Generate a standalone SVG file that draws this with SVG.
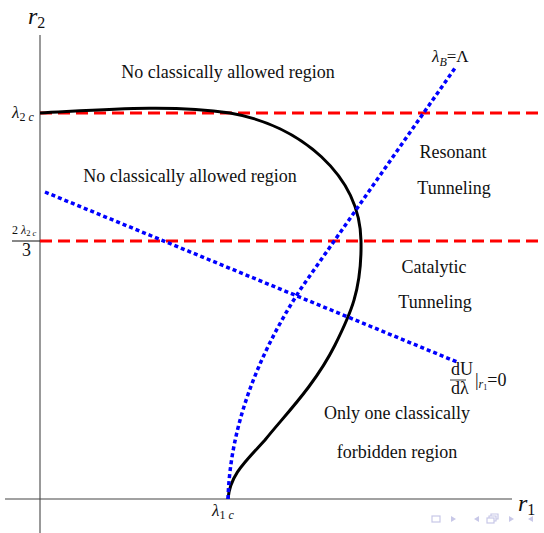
<svg xmlns="http://www.w3.org/2000/svg" width="544" height="533" viewBox="0 0 544 533">
<style>
.t{font-family:"Liberation Serif","Times New Roman",serif;font-size:18px;fill:#111}
.ti{font-family:"Liberation Serif","Times New Roman",serif;font-style:italic;fill:#111}
.red{stroke:#ff0000;stroke-width:3;stroke-dasharray:12 6;fill:none}
.blue{stroke:#0000ff;stroke-width:3.5;stroke-dasharray:4 3;fill:none}
.nav{fill:none;stroke:#c8c8e8;stroke-width:1.2}
.navf{fill:#c8c8e8}
</style>
<rect width="544" height="533" fill="#fff"/>
<g id="axes">
<line x1="40" y1="35" x2="40" y2="533" stroke="#777" stroke-width="1.5"/>
<line x1="5" y1="499" x2="512" y2="499" stroke="#444" stroke-width="1.2"/>
<line x1="12" y1="241" x2="40" y2="241" stroke="#111" stroke-width="1"/>
<text class="ti" x="28" y="24" font-size="24">r<tspan font-style="normal" font-size="16" dy="4">2</tspan></text>
<text class="ti" x="518" y="511" font-size="24">r<tspan font-style="normal" font-size="16" dy="4">1</tspan></text>
</g>
<g id="connectors">
<line class="red" x1="40" y1="113" x2="540" y2="113"/>
<line class="red" x1="40" y1="241" x2="540" y2="241"/>
<path d="M40,113 C100,110 170,104 230,113 C300,125 360,175 361,241 C362,290 350,315 335,345 C315,385 285,415 265,440 C245,462 230,475 228,499" fill="none" stroke="#000" stroke-width="3"/>
<path class="blue" d="M228,499 C230,430 255,360 300,290 L455,68"/>
<line class="blue" x1="45" y1="192" x2="457" y2="362"/>
</g>
<g id="labels">
<text class="ti" x="12" y="118" font-size="17">λ<tspan font-style="normal" font-size="12" dy="3">2</tspan><tspan font-size="12"> c</tspan></text>
<text class="ti" x="12" y="234" font-size="12"><tspan font-style="normal">2</tspan> λ<tspan font-style="normal" font-size="8.5" dy="1.5">2</tspan><tspan font-size="8.5"> c</tspan></text>
<text class="t" x="22" y="256" font-size="12">3</text>
<text class="ti" x="212" y="516" font-size="17">λ<tspan font-style="normal" font-size="12" dy="3">1</tspan><tspan font-size="12"> c</tspan></text>
<text class="ti" x="432" y="62" font-size="17">λ<tspan font-size="12" dy="4">B</tspan><tspan font-style="normal" dy="-4">=Λ</tspan></text>
<text class="t" x="451" y="375" font-size="11">dU</text>
<line x1="450" y1="380" x2="466" y2="380" stroke="#111" stroke-width="0.8"/>
<text class="t" x="451" y="394" font-size="11">dλ</text>
<text class="t" x="475" y="386" font-size="16">|<tspan class="ti" font-size="12" dy="2">r</tspan><tspan font-size="8" dy="2">1</tspan><tspan dy="-4">=0</tspan></text>
</g>
<g id="regions">
<text class="t" x="228" y="78" text-anchor="middle">No classically allowed region</text>
<text class="t" x="190" y="182" text-anchor="middle">No classically allowed region</text>
<text class="t" x="453" y="158" text-anchor="middle">Resonant</text>
<text class="t" x="454" y="194" text-anchor="middle">Tunneling</text>
<text class="t" x="434" y="273" text-anchor="middle">Catalytic</text>
<text class="t" x="435" y="308" text-anchor="middle">Tunneling</text>
<text class="t" x="397" y="419" text-anchor="middle">Only one classically</text>
<text class="t" x="397" y="458" text-anchor="middle">forbidden region</text>
</g>
<g id="nav">
<rect class="nav" x="432" y="516" width="8" height="6"/>
<path class="navf" d="M451,516 L456,519 L451,522 Z"/>
<path class="navf" d="M479,516 L474,519 L479,522 Z"/>
<rect class="nav" x="487" y="518" width="7" height="5"/>
<path class="nav" d="M489,518 V516 H496 V521 H494 M491,516 V514 H498 V519 H496"/>
<path class="navf" d="M509,516 L514,519 L509,522 Z"/>
<path class="navf" d="M533,516 L528,519 L533,522 Z"/>
</g>
</svg>
